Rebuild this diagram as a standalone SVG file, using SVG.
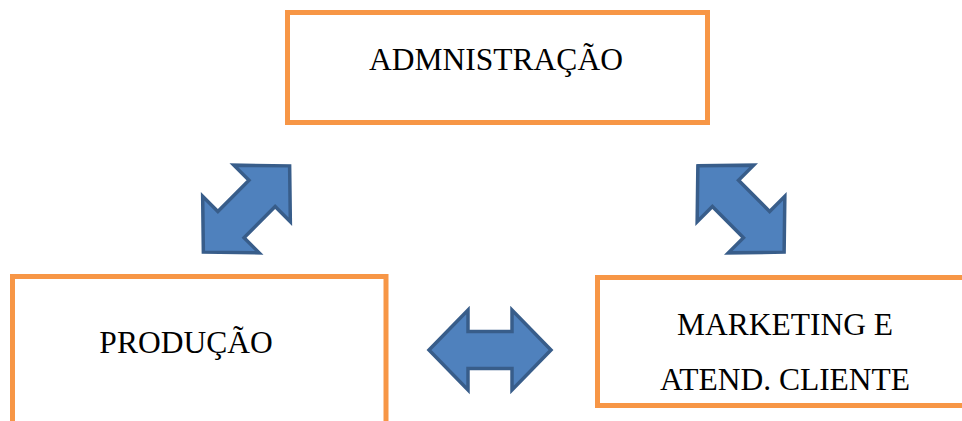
<svg xmlns="http://www.w3.org/2000/svg" width="962" height="421" viewBox="0 0 962 421">
<style>
.box{fill:#fff;stroke:#F79646;stroke-width:5}
.lbl{font-family:"Liberation Serif","Times New Roman",serif;font-size:31.5px;fill:#000;text-anchor:middle}
.arr{fill:#4F81BD;stroke:#385D8A;stroke-width:3.5;stroke-linejoin:miter}
</style>
<defs>
<polygon id="dbl" points="-61,0 -22,-40 -22,-18.5 22,-18.5 22,-40 61,0 22,40 22,18.5 -22,18.5 -22,40"/>
</defs>
<rect width="962" height="421" fill="#fff"/>
<g id="connectors">
<use href="#dbl" class="arr" transform="translate(246.5,209) rotate(-45)"/>
<use href="#dbl" class="arr" transform="translate(741,209) rotate(45)"/>
<use href="#dbl" class="arr" transform="translate(490,350)"/>
</g>
<g id="admnistracao">
<rect class="box" x="287.5" y="12.5" width="420" height="110"/>
<text class="lbl" x="496" y="70">ADMNISTRAÇÃO</text>
</g>
<g id="producao">
<rect class="box" x="12.5" y="276.5" width="373.5" height="160"/>
<text class="lbl" x="186" y="353">PRODUÇÃO</text>
</g>
<g id="marketing">
<rect class="box" x="597.5" y="277.5" width="380" height="128"/>
<text class="lbl" x="785" y="335">MARKETING E</text>
<text class="lbl" x="785" y="390">ATEND. CLIENTE</text>
</g>
</svg>
